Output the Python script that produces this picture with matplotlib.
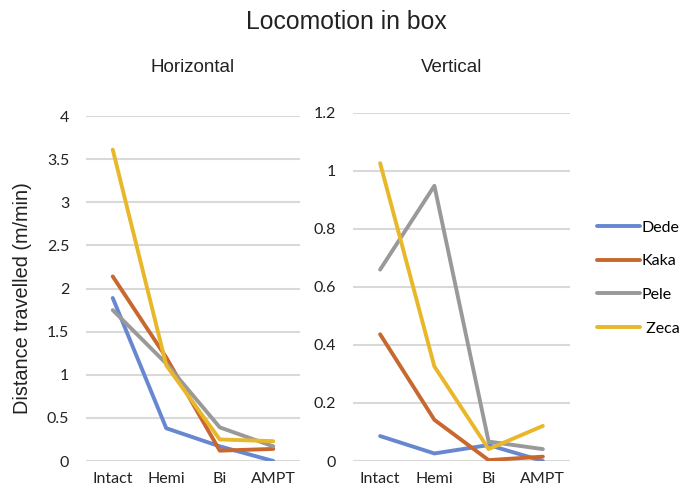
import matplotlib.pyplot as plt

plt.rcParams["font.family"] = ["Lato", "DejaVu Sans"]
ARIAL = ["Liberation Sans", "DejaVu Sans"]

categories = ["Intact", "Hemi", "Bi", "AMPT"]
animals = ["Dede", "Kaka", "Pele", " Zeca"]

# Horizontal locomotion (m/min)
horiz_dede = [1.89, 0.38, 0.17, 0.0]
horiz_kaka = [2.14, 1.20, 0.12, 0.14]
horiz_pele = [1.75, 1.13, 0.39, 0.17]
horiz_zeca = [3.61, 1.11, 0.25, 0.23]

# Vertical locomotion (m/min)
vert_dede = [0.086, 0.026, 0.055, 0.0]
vert_kaka = [0.437, 0.142, 0.003, 0.015]
vert_pele = [0.660, 0.949, 0.067, 0.041]
vert_zeca = [1.027, 0.326, 0.041, 0.121]

colors = ["#6787D1", "#C8682E", "#999999", "#E8B82A"]

panels = [
    ("Horizontal", [horiz_dede, horiz_kaka, horiz_pele, horiz_zeca],
     [0, 0.5, 1, 1.5, 2, 2.5, 3, 3.5, 4], ["0", "0.5", "1", "1.5", "2", "2.5", "3", "3.5", "4"]),
    ("Vertical", [vert_dede, vert_kaka, vert_pele, vert_zeca],
     [0, 0.2, 0.4, 0.6, 0.8, 1.0, 1.2], ["0", "0.2", "0.4", "0.6", "0.8", "1", "1.2"]),
]

fig = plt.figure(figsize=(6.92, 4.94), dpi=100)
ax_pos = [
    [86 / 692, 33 / 494, 214 / 692, 345 / 494],
    [353 / 692, 33 / 494, 217 / 692, 348 / 494],
]

x = list(range(len(categories)))
lines = []
for pos, (name, series, yt, ytl) in zip(ax_pos, panels):
    ax = fig.add_axes(pos)
    for vals, c, lab in zip(series, colors, animals):
        (ln,) = ax.plot(x, vals, color=c, linewidth=2.8, label=lab,
                        solid_capstyle="round", solid_joinstyle="round")
        if name == "Horizontal":
            lines.append(ln)
    ax.set_xlim(-0.5, 3.5)
    ax.set_ylim(yt[0], yt[-1])
    ax.set_yticks(yt)
    ax.set_yticklabels(ytl)
    ax.set_xticks(x)
    ax.set_xticklabels(categories)
    ax.tick_params(length=0, labelsize=11.5, colors="#222222")
    ax.tick_params(axis="y", pad=12)
    ax.tick_params(axis="x", pad=8)
    ax.grid(axis="y", color="#d9d9d9", linewidth=1.5)
    ax.set_axisbelow(True)
    for s in ax.spines.values():
        s.set_visible(False)

fig.text(193 / 692, 1 - 68 / 494, "Horizontal", ha="center", va="center",
         fontsize=13.5, family=ARIAL, color="#222222")
fig.text(452 / 692, 1 - 68 / 494, "Vertical", ha="center", va="center",
         fontsize=13.5, family=ARIAL, color="#222222")
fig.text(0.5, 1 - 22 / 494, "Locomotion in box", ha="center", va="center",
         fontsize=17.8, family=ARIAL, color="#222222")
fig.text(23 / 692, 1 - 298 / 494, "Distance travelled (m/min)", rotation=90,
         ha="center", va="center", fontsize=14.3, family=ARIAL, color="#222222")

fig.legend(
    lines,
    animals,
    loc="center left",
    bbox_to_anchor=(597 / 692, 1 - 278 / 494),
    frameon=False,
    fontsize=11.5,
    handlelength=2.7,
    handletextpad=0.1,
    labelspacing=1.22,
    borderpad=0,
    borderaxespad=0,
)

fig.savefig("out.png", dpi=100)
